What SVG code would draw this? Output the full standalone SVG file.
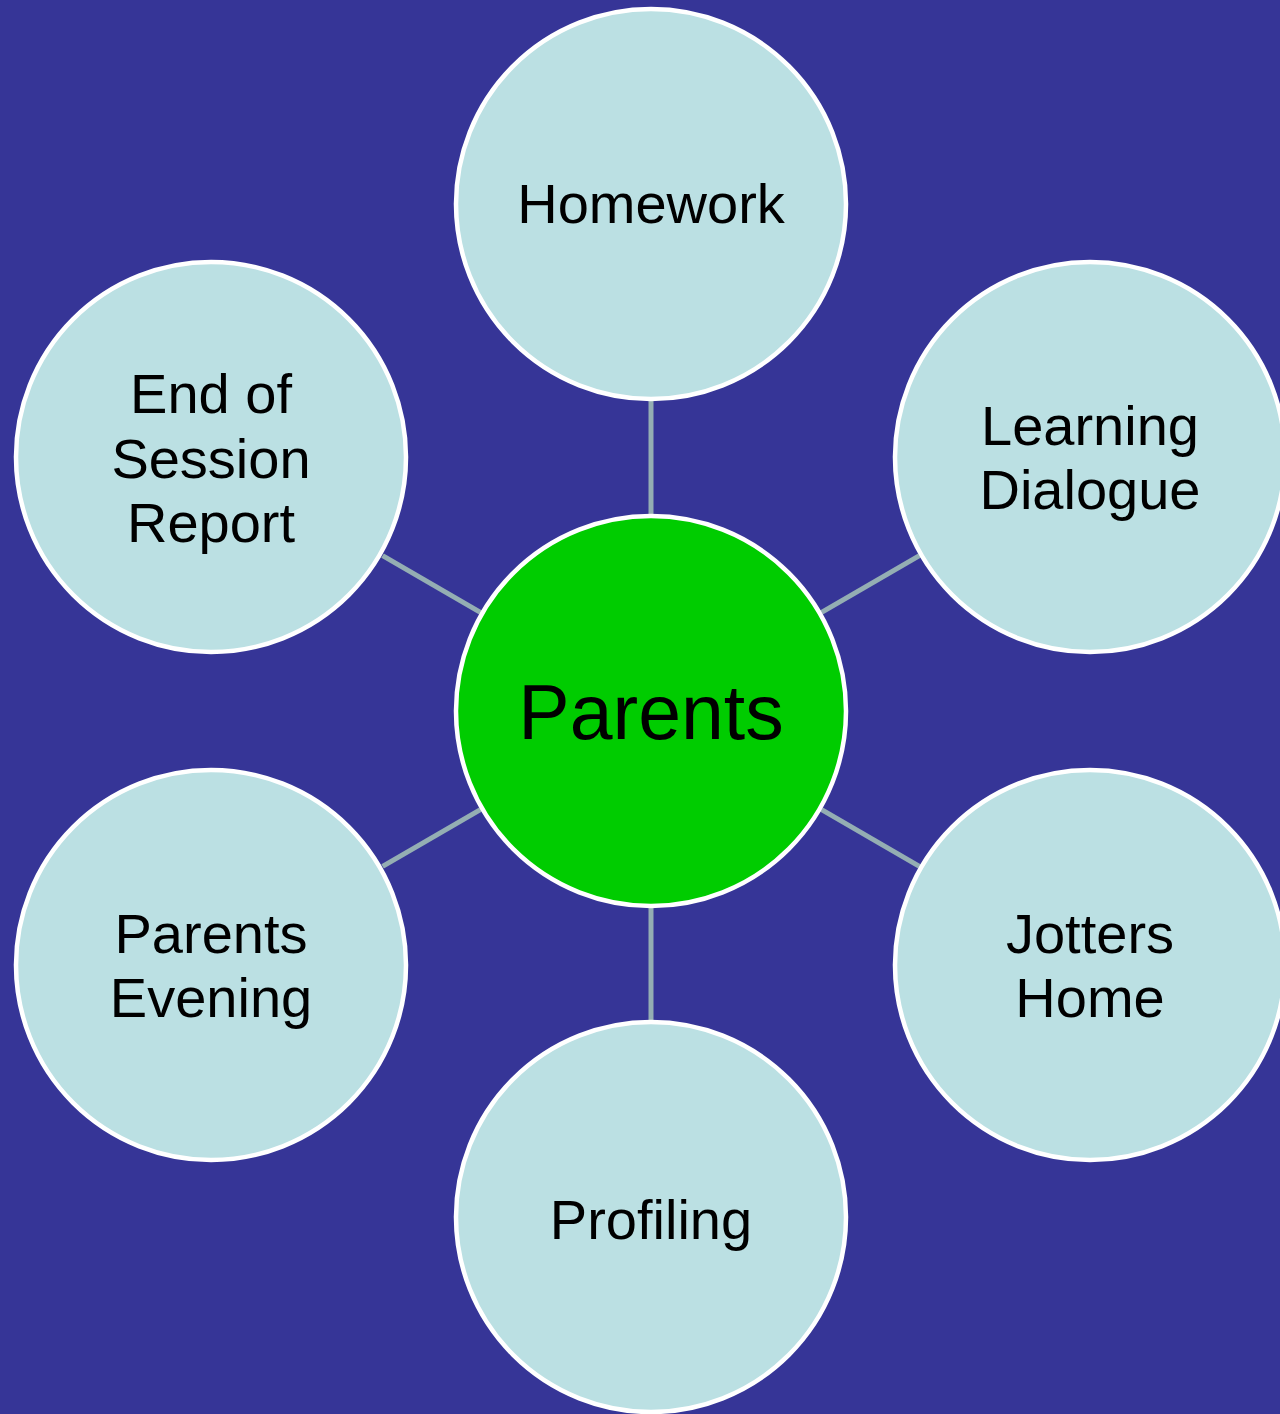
<svg xmlns="http://www.w3.org/2000/svg" width="1280" height="1414" viewBox="0 0 1280 1414">
<style>
.bg{fill:#363597}
.sat{fill:#BBE0E3;stroke:#FFFFFF;stroke-width:4.5}
.hub{fill:#00CC00;stroke:#FFFFFF;stroke-width:4.5}
.con{stroke:#94AEB3;stroke-width:5;fill:none}
text{font-family:"Liberation Sans",Arial,sans-serif;fill:#000000;text-anchor:middle}
.t{font-size:56px}
.th{font-size:77px}
</style>
<rect class="bg" x="0" y="0" width="1280" height="1414"/>
<g id="connectors">
<line class="con" x1="651" y1="514" x2="651" y2="401"/>
<line class="con" x1="821.6" y1="612.3" x2="919.4" y2="555.7"/>
<line class="con" x1="821.6" y1="809.7" x2="919.4" y2="866.3"/>
<line class="con" x1="651" y1="908" x2="651" y2="1021"/>
<line class="con" x1="480.4" y1="809.7" x2="382.6" y2="866.3"/>
<line class="con" x1="480.4" y1="612.3" x2="382.6" y2="555.7"/>
</g>
<g id="node-homework">
<circle class="sat" cx="651" cy="204" r="195"/>
<text class="t" x="651" y="223">Homework</text>
</g>
<g id="node-learning-dialogue">
<circle class="sat" cx="1090" cy="457" r="195"/>
<text class="t" x="1090" y="445">Learning</text>
<text class="t" x="1090" y="509">Dialogue</text>
</g>
<g id="node-jotters-home">
<circle class="sat" cx="1090" cy="965" r="195"/>
<text class="t" x="1090" y="953">Jotters</text>
<text class="t" x="1090" y="1017">Home</text>
</g>
<g id="node-profiling">
<circle class="sat" cx="651" cy="1217" r="195"/>
<text class="t" x="651" y="1239">Profiling</text>
</g>
<g id="node-parents-evening">
<circle class="sat" cx="211" cy="965" r="195"/>
<text class="t" x="211" y="953">Parents</text>
<text class="t" x="211" y="1017">Evening</text>
</g>
<g id="node-end-of-session">
<circle class="sat" cx="211" cy="457" r="195"/>
<text class="t" x="211" y="413">End of</text>
<text class="t" x="211" y="478">Session</text>
<text class="t" x="211" y="542">Report</text>
</g>
<g id="node-parents">
<circle class="hub" cx="651" cy="711" r="195"/>
<text class="th" x="651" y="739">Parents</text>
</g>
</svg>
